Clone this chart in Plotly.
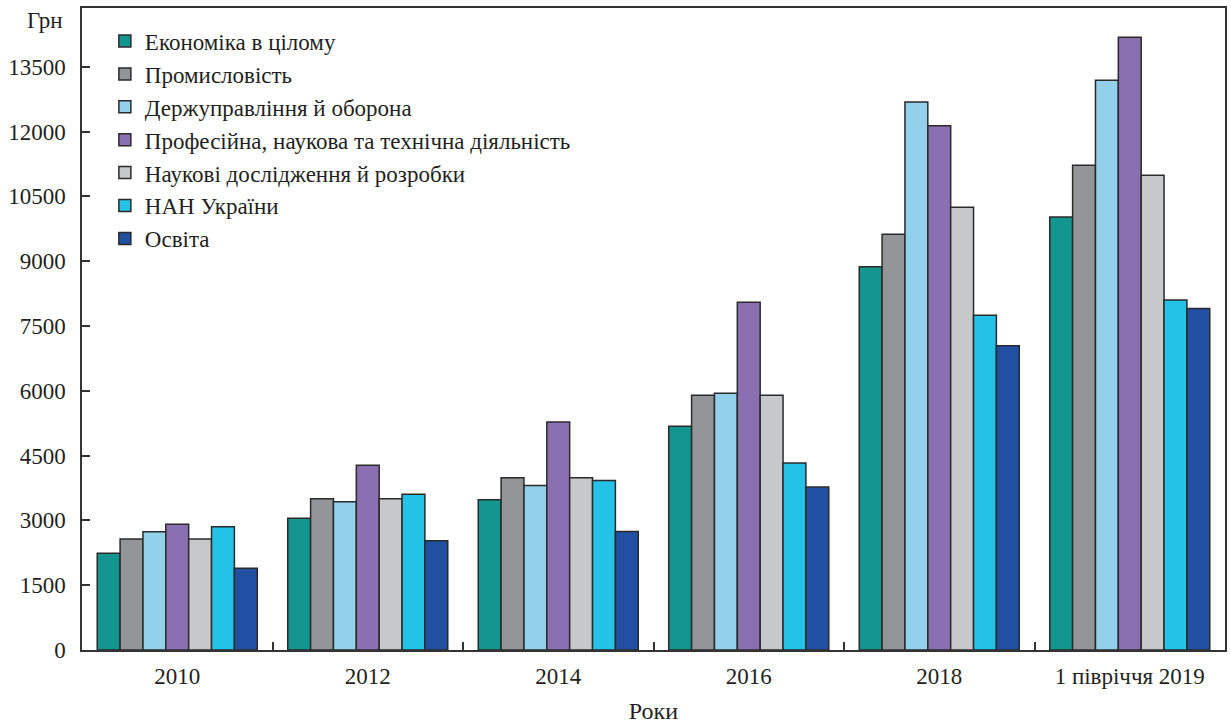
import plotly.graph_objects as go

categories = ["2010", "2012", "2014", "2016", "2018", "1 півріччя 2019"]

series_names = [
    "Економіка в цілому",
    "Промисловість",
    "Держуправління й оборона",
    "Професійна, наукова та технічна діяльність",
    "Наукові дослідження й розробки",
    "НАН України",
    "Освіта",
]

economy = [2240, 3050, 3480, 5180, 8870, 10020]
industry = [2570, 3500, 3985, 5895, 9625, 11220]
government = [2735, 3430, 3805, 5940, 12685, 13185]
professional = [2910, 4275, 5280, 8050, 12135, 14185]
research = [2570, 3500, 3985, 5895, 10250, 10990]
nas = [2850, 3605, 3925, 4330, 7750, 8100]
education = [1890, 2530, 2745, 3775, 7045, 7905]

colors = ["#13968F", "#939598", "#93D0EC", "#8B70B1", "#C7C8CA", "#25C2E8", "#2150A2"]

y_ticks = [0, 1500, 3000, 4500, 6000, 7500, 9000, 10500, 12000, 13500]

all_series = [economy, industry, government, professional, research, nas, education]

FONT = "Liberation Serif, Times New Roman, serif"
fig = go.Figure()
for name, vals, col in zip(series_names, all_series, colors):
    fig.add_trace(go.Bar(
        x=categories, y=vals, name=name,
        marker=dict(color=col, line=dict(color="#2a2a2a", width=1.5)),
    ))

fig.update_layout(
    width=1231, height=724,
    barmode="group", bargap=0.16, bargroupgap=0,
    plot_bgcolor="white", paper_bgcolor="white",
    margin=dict(l=82, r=4, t=8, b=73),
    font=dict(family=FONT, size=23, color="#231F20"),
    showlegend=True,
    legend=dict(
        x=0.02, y=0.982, xanchor="left", yanchor="top",
        font=dict(family=FONT, size=23, color="#231F20"),
        bgcolor="rgba(0,0,0,0)", tracegroupgap=0,
    ),
    xaxis=dict(
        type="category", tickson="boundaries", ticks="inside", ticklen=8,
        tickwidth=1.5, tickcolor="#333",
        showline=True, linecolor="#333", linewidth=1.5, mirror=True,
        showgrid=False, ticklabelstandoff=5,
        title=dict(text="Роки", font=dict(family=FONT, size=24), standoff=14),
    ),
    yaxis=dict(
        range=[0, 14860], tickvals=y_ticks, ticktext=[str(v) for v in y_ticks],
        ticks="inside", ticklen=8,
        tickwidth=1.5, tickcolor="#333",
        showline=True, linecolor="#333", linewidth=1.5, mirror=True,
        showgrid=False, zeroline=False, ticklabelstandoff=10,
    ),
    annotations=[dict(
        text="Грн", xref="paper", yref="paper", x=-0.0145, y=1.003,
        xanchor="right", yanchor="top", showarrow=False,
        font=dict(family=FONT, size=23, color="#231F20"),
    )],
)

fig.write_html("out.html")
